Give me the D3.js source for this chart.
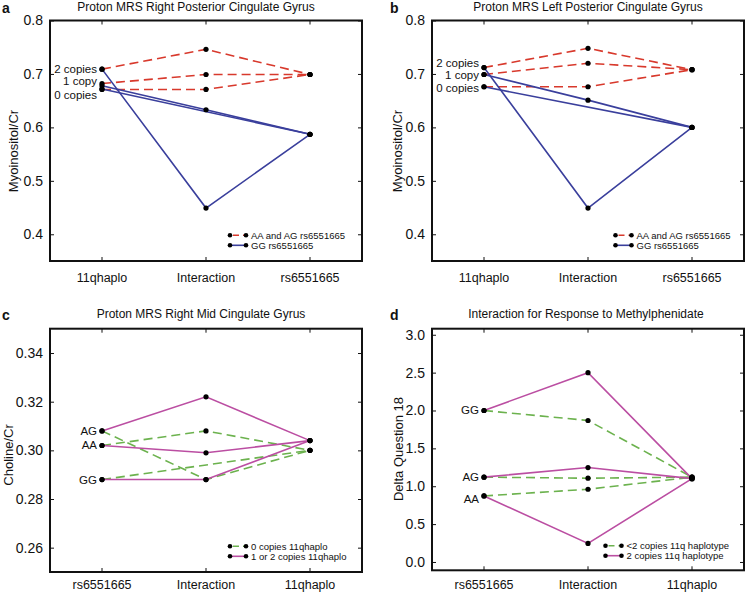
<!DOCTYPE html>
<html><head><meta charset="utf-8">
<script src="https://cdn.jsdelivr.net/npm/d3@7"></script>
<style>
html,body{margin:0;padding:0;background:#fff;}
svg{display:block;font-family:"Liberation Sans",Arial,Helvetica,sans-serif;}
</style></head>
<body>
<svg id="chart" width="747" height="594"></svg>
<script>
// ---------- DATA ----------
const catsAB = ["11qhaplo", "Interaction", "rs6551665"];
const catsCD = ["rs6551665", "Interaction", "11qhaplo"];
const ticksAB = [0.4, 0.5, 0.6, 0.7, 0.8];
const ticksC = [0.26, 0.28, 0.30, 0.32, 0.34];
const ticksD = [0.0, 0.5, 1.0, 1.5, 2.0, 2.5, 3.0];

const titles = [
  "Proton MRS Right Posterior Cingulate Gyrus",
  "Proton MRS Left Posterior Cingulate Gyrus",
  "Proton MRS Right Mid Cingulate Gyrus",
  "Interaction for Response to Methylphenidate"
];
const yLabels = ["Myoinositol/Cr", "Myoinositol/Cr", "Choline/Cr", "Delta Question 18"];

const groupsAB = ["2 copies", "1 copy", "0 copies"];
const groupsC = ["AG", "AA", "GG"];
const groupsD = ["GG", "AG", "AA"];

const legendAB = ["AA and AG rs6551665", "GG rs6551665"];
const legendC = ["0 copies 11qhaplo", "1 or 2 copies 11qhaplo"];
const legendD = ["<2 copies 11q haplotype", "2 copies 11q haplotype"];

// panel a (values per group across the three x categories; null = no point)
const aRed  = [[0.709, 0.746, 0.699], [0.682, 0.699, 0.699], [0.671, 0.671, 0.699]];
const aBlue = [[0.709, 0.449, 0.587], [0.678, 0.633, 0.587], [0.672, null, 0.587]];
// panel b
const bRed  = [[0.712, 0.748, 0.708], [0.699, 0.720, 0.708], [0.676, 0.676, 0.708]];
const bBlue = [[0.712, 0.449, 0.600], [0.699, 0.651, 0.600], [0.676, null, 0.600]];
// panel c
const cGreen   = [[0.308, 0.288, 0.300], [0.302, 0.308, 0.300], [0.288, null, 0.300]];
const cMagenta = [[0.308, 0.322, 0.304], [0.302, 0.299, 0.304], [0.288, 0.288, 0.304]];
// panel d
const dGreen   = [[2.00, 1.868, 1.12], [1.12, 1.106, 1.12], [0.872, 0.960, 1.12]];
const dMagenta = [[2.00, 2.50, 1.10], [1.12, 1.247, 1.10], [0.872, 0.245, 1.10]];

// ---------- STYLE / LAYOUT ----------
const RED = "#d8392c", BLUE = "#3a3f9c", GREEN = "#6cb24e", MAGENTA = "#bb4ea2";
const DASH = "9,5";

const panels = [
  { letter: "a", f: {x0: 50, x1: 362, y0: 20.5, y1: 261}, cats: catsAB, dom: [0.35, 0.8], ticks: ticksAB, fmt: ".1f",
    title: titles[0], titleX: 196, titleY: 11, ylab: yLabels[0], ylabX: 13, ylabY: 151, xlabBase: 282,
    groups: groupsAB, gData: aRed, labDy: [0, -3, 6],
    series: [{d: aRed, c: RED, dash: DASH}, {d: aBlue, c: BLUE, dash: null}],
    leg: {x: 230, y: 235.3, names: legendAB} },
  { letter: "b", f: {x0: 432, x1: 744, y0: 20.5, y1: 261}, cats: catsAB, dom: [0.35, 0.8], ticks: ticksAB, fmt: ".1f",
    title: titles[1], titleX: 588, titleY: 11, ylab: yLabels[1], ylabX: 397, ylabY: 151, xlabBase: 282,
    groups: groupsAB, gData: bRed, labDy: [-5, 1, 1],
    series: [{d: bRed, c: RED, dash: DASH}, {d: bBlue, c: BLUE, dash: null}],
    leg: {x: 615.5, y: 235.3, names: legendAB} },
  { letter: "c", f: {x0: 50, x1: 362, y0: 328.7, y1: 572}, cats: catsCD, dom: [0.25, 0.35], ticks: ticksC, fmt: ".2f",
    title: titles[2], titleX: 201, titleY: 318, ylab: yLabels[2], ylabX: 8, ylabY: 455, xlabBase: 589,
    groups: groupsC, gData: cMagenta, labDy: [0, 0, 0],
    series: [{d: cGreen, c: GREEN, dash: DASH}, {d: cMagenta, c: MAGENTA, dash: null}],
    leg: {x: 230, y: 546.3, names: legendC} },
  { letter: "d", f: {x0: 432, x1: 744, y0: 328.7, y1: 570.3}, cats: catsCD, dom: [-0.11, 3.08], ticks: ticksD, fmt: ".1f",
    title: titles[3], titleX: 586, titleY: 318, ylab: yLabels[3], ylabX: 398, ylabY: 449, xlabBase: 589,
    groups: groupsD, gData: dMagenta, labDy: [0, 0, 3],
    series: [{d: dGreen, c: GREEN, dash: DASH}, {d: dMagenta, c: MAGENTA, dash: null}],
    leg: {x: 605.5, y: 545.7, names: legendD} }
];

const svg = d3.select("#chart");
svg.append("rect").attr("width", 747).attr("height", 594).attr("fill", "#fff");

panels.forEach(p => {
  const g = svg.append("g");
  const f = p.f;
  const x = d3.scaleBand().domain(p.cats).range([f.x0, f.x1]).paddingInner(0).paddingOuter(0);
  const xc = c => x(c) + x.bandwidth() / 2;
  const y = d3.scaleLinear().domain(p.dom).range([f.y1, f.y0]);

  // axes with inward ticks
  const left = g.append("g").attr("transform", `translate(${f.x0},0)`)
    .call(d3.axisLeft(y).tickValues(p.ticks).tickSize(-4).tickPadding(7).tickFormat(d3.format(p.fmt)));
  left.selectAll("text").attr("font-size", 14).attr("fill", "#111");
  g.append("g").attr("transform", `translate(${f.x1},0)`)
    .call(d3.axisRight(y).tickValues(p.ticks).tickSize(-4).tickFormat(""));
  g.append("g").attr("transform", `translate(0,${f.y0})`)
    .call(d3.axisTop(x).tickSize(-4).tickFormat("").offset(0))
  const bottom = g.append("g").attr("transform", `translate(0,${f.y1})`)
    .call(d3.axisBottom(x).tickSize(-4).tickPadding(0).offset(0));
  bottom.selectAll("text").attr("font-size", 12.5).attr("fill", "#111")
    .attr("dy", null).attr("y", p.xlabBase - f.y1);
  g.selectAll(".domain").remove();
  g.selectAll(".tick line").attr("stroke", "#111").attr("stroke-width", 1);

  // frame
  g.append("rect").attr("x", f.x0).attr("y", f.y0).attr("width", f.x1 - f.x0).attr("height", f.y1 - f.y0)
    .attr("fill", "none").attr("stroke", "#111").attr("stroke-width", 2);

  // series lines
  const line = d3.line().x(d => xc(d.c)).y(d => y(d.v));
  p.series.forEach(s => {
    s.d.forEach(vals => {
      const pts = vals.map((v, i) => ({c: p.cats[i], v})).filter(d => d.v !== null);
      g.append("path").datum(pts).attr("d", line).attr("fill", "none")
        .attr("stroke", s.c).attr("stroke-width", 1.6)
        .attr("stroke-dasharray", s.dash);
    });
  });
  // dots
  p.series.forEach(s => {
    s.d.forEach(vals => {
      vals.forEach((v, i) => {
        if (v === null) return;
        g.append("circle").attr("cx", xc(p.cats[i])).attr("cy", y(v)).attr("r", 2.6).attr("fill", "#000");
      });
    });
  });

  // group labels
  p.groups.forEach((name, i) => {
    g.append("text").attr("x", xc(p.cats[0]) - 5).attr("y", y(p.gData[i][0]) + p.labDy[i])
      .attr("text-anchor", "end").attr("dominant-baseline", "central")
      .attr("font-size", 11.5).attr("fill", "#111").text(name);
  });

  // title, letter, y label
  g.append("text").attr("x", p.titleX).attr("y", p.titleY).attr("text-anchor", "middle")
    .attr("font-size", 12).attr("fill", "#111").text(p.title);
  g.append("text").attr("x", f.x0 < 100 ? 2 : 390).attr("y", p.titleY + 1.5)
    .attr("font-size", 14).attr("font-weight", "bold").attr("fill", "#111").text(p.letter);
  g.append("text").attr("transform", `translate(${p.ylabX},${p.ylabY}) rotate(-90)`)
    .attr("text-anchor", "middle").attr("dominant-baseline", "central")
    .attr("font-size", 13).attr("fill", "#111").text(p.ylab);

  // legend
  const rowH = (p.leg.names.length > 1) ? 10 : 0;
  p.series.forEach((s, i) => {
    const ly = p.leg.y + i * rowH;
    g.append("line").attr("x1", p.leg.x).attr("x2", p.leg.x + 16).attr("y1", ly).attr("y2", ly)
      .attr("stroke", s.c).attr("stroke-width", 1.6).attr("stroke-dasharray", s.dash ? "6,4" : null)
      .attr("stroke-dashoffset", s.dash ? -3 : null);
    g.append("circle").attr("cx", p.leg.x).attr("cy", ly).attr("r", 2.3).attr("fill", "#000");
    g.append("circle").attr("cx", p.leg.x + 16).attr("cy", ly).attr("r", 2.3).attr("fill", "#000");
    g.append("text").attr("x", p.leg.x + 21).attr("y", ly).attr("dominant-baseline", "central")
      .attr("font-size", 9.5).attr("fill", "#111").text(p.leg.names[i]);
  });
});
</script>
</body></html>
